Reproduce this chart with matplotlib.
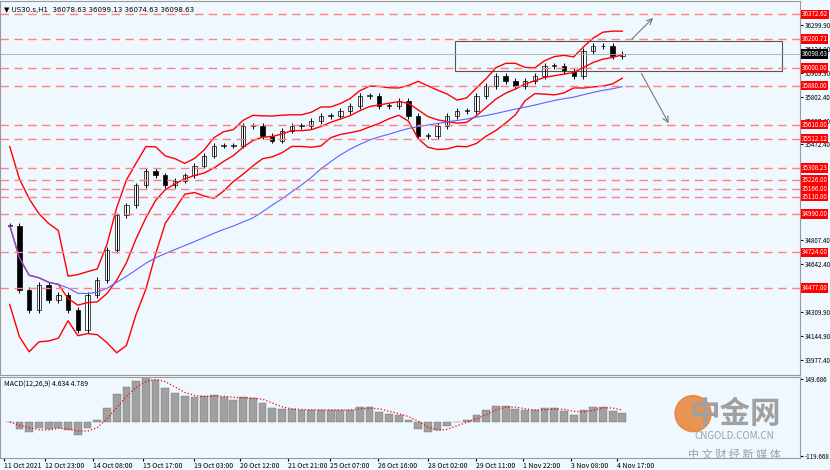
import numpy as np, pandas as pd
import matplotlib
matplotlib.use("Agg")
import matplotlib.pyplot as plt
from matplotlib.patches import Rectangle

plt.rcParams['font.family'] = ['Noto Sans CJK SC', 'DejaVu Sans']

closes = [34910, 34462, 34324, 34497, 34393, 34428, 34324, 34185, 34428, 34531,
          34739, 34980, 35049, 35188, 35291, 35257, 35188, 35222, 35257, 35326,
          35395, 35464, 35464, 35464, 35602, 35602, 35533, 35499, 35568, 35602,
          35602, 35637, 35671, 35671, 35706, 35740, 35809, 35809, 35740, 35740,
          35775, 35671, 35533, 35533, 35602, 35671, 35706, 35706, 35809, 35879,
          35948, 35913, 35879, 35913, 35948, 36017, 36017, 35982, 35948, 36120,
          36155, 36155, 36086, 36099]
levels = [36372.62, 36200.71, 36000.00, 35880.00, 35610.00, 35512.12, 35308.23,
          35226.00, 35166.00, 35110.00, 34990.00, 34724.00, 34477.00]
ticks = [36299.90, 36134.90, 35969.90, 35802.40, 35637.40, 35472.40,
         34807.40, 34642.40, 34309.90, 34144.90, 33977.40]
xlabels = ["11 Oct 2021", "12 Oct 23:00", "14 Oct 08:00", "15 Oct 17:00", "19 Oct 03:00",
           "20 Oct 12:00", "21 Oct 21:00", "25 Oct 07:00", "26 Oct 16:00", "28 Oct 02:00",
           "29 Oct 11:00", "1 Nov 22:00", "3 Nov 08:00", "4 Nov 17:00"]
last_price = 36098.63
box_top, box_bottom = 36189, 35982

W, H = 830, 470
fig = plt.figure(figsize=(W/100, H/100), dpi=100)
fig.patch.set_facecolor('#f0f8ff')
bg = '#f0f8ff'
px = 800/830
ax = fig.add_axes([0, 1-375/H, px, 375/H - 1/H], facecolor=bg)
am = fig.add_axes([0, 1-458/H, px, 81/H], facecolor=bg)

c = pd.Series(closes, dtype=float)
n = len(c)
x = np.arange(n)
o = c.shift(1).fillna(c[0])
hi = np.maximum(o, c) + 20
lo = np.minimum(o, c) - 20
for i in range(n):
    ax.vlines(x[i], lo[i], hi[i], color='black', lw=0.7)
    ax.bar(x[i], c[i]-o[i] if c[i] != o[i] else 2, bottom=o[i], width=0.45,
           color='white' if c[i] >= o[i] else 'black', edgecolor='black', lw=0.5)
mid = c.rolling(6, min_periods=1).mean()
sd = c.rolling(6, min_periods=2).std().bfill()
ax.plot(x, mid, color='red', lw=1)
ax.plot(x, mid + 1.6*sd + 40, color='red', lw=1)
ax.plot(x, mid - 1.6*sd - 40, color='red', lw=1)
ax.plot(x, c.rolling(25, min_periods=1).mean(), color='#6060ff', lw=0.8)

xmax = n * 800/630
ax.set_xlim(-1, xmax)
y0 = 36299.9 + 24*6.91
y1 = 36299.9 - (375-24)*6.91
ax.set_ylim(y1, y0)
for L in levels:
    ax.axhline(L, color='#ff8080', ls=(0, (6, 4)), lw=1)
for s in ax.spines.values():
    s.set_color('#999999')
ax.set_xticks([]); ax.yaxis.tick_right()
ax.set_yticks(ticks); ax.set_yticklabels([f"{t:.2f}" for t in ticks], fontsize=4.5)
ax.tick_params(axis='y', length=2, pad=1.5)
for L in levels:
    ax.text(1.002, L, f"{L:.2f}", transform=ax.get_yaxis_transform(), fontsize=4.5,
            color='white', va='center', bbox=dict(fc='red', ec='none', pad=0.6))
ax.text(1.002, last_price, f"{last_price:.2f}", transform=ax.get_yaxis_transform(), fontsize=4.5,
        color='white', va='center', bbox=dict(fc='black', ec='none', pad=0.6))
ax.axhline(last_price, color='#aaaaaa', lw=0.6)
xs = lambda p: -1 + (p/800)*(xmax+1)
ax.add_patch(Rectangle((xs(455), box_bottom), xs(782)-xs(455), box_top-box_bottom,
                       fill=False, ec='#555555', lw=0.8))
ax.annotate('', xy=(xs(655), 36299.9+9*6.91), xytext=(xs(630), box_top),
            arrowprops=dict(arrowstyle='->', color='#777777', lw=0.8))
ax.annotate('', xy=(xs(670), 36299.9-101*6.91), xytext=(xs(640), box_bottom),
            arrowprops=dict(arrowstyle='->', color='#777777', lw=0.8))
ax.text(0.005, 0.985, "▼ US30.s,H1  36078.63 36099.13 36074.63 36098.63",
        transform=ax.transAxes, fontsize=5, va='top', family='DejaVu Sans')

e12 = c.ewm(span=4).mean(); e26 = c.ewm(span=9).mean()
macd = e12 - e26
sig = macd.rolling(3, min_periods=1).mean()
am.bar(x, macd, width=0.8, color='#a0a0a0', edgecolor='#707070', lw=0.3)
am.plot(x, sig, color='red', ls=':', lw=0.9)
am.set_xlim(-1, xmax)
mm = max(abs(macd.max()), abs(macd.min()))
am.set_ylim(-mm*0.8, mm*1.0)
am.yaxis.tick_right()
am.set_yticks([mm*0.95, -mm*0.75]); am.set_yticklabels(["149.686", "-119.668"], fontsize=4.5)
am.tick_params(axis='y', length=2, pad=1.5)
for s in am.spines.values():
    s.set_color('#999999')
am.text(0.005, 0.96, "MACD(12,26,9) 4.634 4.789", transform=am.transAxes, fontsize=5, va='top')
xpos = [4, 45, 93, 143, 194, 240, 288, 330, 378, 428, 476, 523, 571, 617]
am.set_xticks([xs(p) for p in xpos]); am.set_xticklabels(xlabels, fontsize=5, ha='left')
am.tick_params(axis='x', length=2, pad=1)

fig.text(0.885, 0.10, "中金网", fontsize=22, color='#a0a0a0', fontweight='bold', ha='center')
fig.text(0.885, 0.065, "CNGOLD.COM.CN", fontsize=7, color='#a0a0a0', ha='center')
fig.text(0.885, 0.025, "中 文 财 经 新 媒 体", fontsize=8, color='#a0a0a0', ha='center')
fig.patches.append(matplotlib.patches.Circle((0.835*W, 0.12*H), 18, transform=None,
                   color='#e87a2a', alpha=0.8))
fig.savefig("out.png", dpi=100, facecolor=fig.get_facecolor())
